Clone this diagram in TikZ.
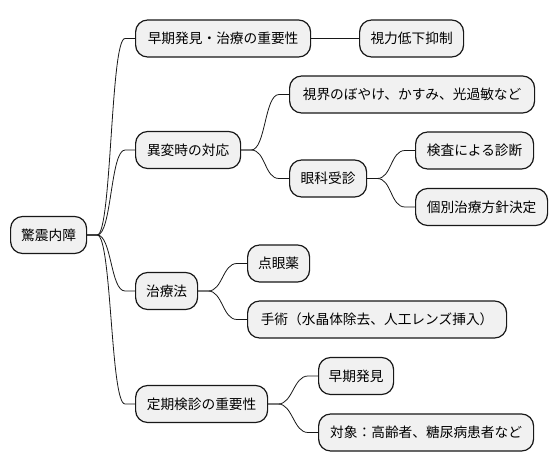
\documentclass[tikz,border=0pt]{standalone}
\usepackage{fontspec}
\setmainfont{Noto Sans CJK JP}
\usetikzlibrary{calc}
\definecolor{boxfill}{HTML}{F1F1F1}
\definecolor{ink}{HTML}{181818}
\tikzset{
  box/.style={draw=ink, line width=1.2pt, fill=boxfill, rounded corners=12pt,
    minimum height=37pt, inner xsep=0pt, inner ysep=0pt, anchor=west,
    font=\fontsize{13.7pt}{16pt}\selectfont, text=black},
  conn/.style={draw=ink, line width=0.8pt}
}
\newcommand{\mconn}[2]{\draw[conn] (#1.east) -- ++(10,0) .. controls +(14.5,0) and +(-14.5,0) .. ($(#2.west)+(-10,0)$) -- (#2.west);}
\begin{document}
\begin{tikzpicture}[x=1pt,y=-1pt]
\useasboundingbox[fill=white] (0,0) rectangle (558,471);
\node[box, minimum width=76pt] (root) at (10,235) {驚震内障};
\node[box, minimum width=175pt] (a) at (135,38.5) {早期発見・治療の重要性};
\node[box, minimum width=104pt] (a1) at (359,38.5) {視力低下抑制};
\node[box, minimum width=105pt] (b) at (135,150) {異変時の対応};
\node[box, minimum width=245pt] (b1) at (289,94.5) {視界のぼやけ、かすみ、光過敏など};
\node[box, minimum width=77pt] (b2) at (289,178.5) {眼科受診};
\node[box, minimum width=118pt] (b21) at (415,150.5) {検査による診断};
\node[box, minimum width=132pt] (b22) at (415,207) {個別治療方針決定};
\node[box, minimum width=62pt] (c) at (135,291) {治療法};
\node[box, minimum width=62pt] (c1) at (247,263.5) {点眼薬};
\node[box, minimum width=259pt] (c2) at (247,319.5) {手術（水晶体除去、人工レンズ挿入）};
\node[box, minimum width=132pt] (d) at (135,404) {定期検診の重要性};
\node[box, minimum width=75pt] (d1) at (318,376) {早期発見};
\node[box, minimum width=215pt] (d2) at (318,432.5) {対象：高齢者、糖尿病患者など};
\mconn{root}{a}
\mconn{root}{b}
\mconn{root}{c}
\mconn{root}{d}
\mconn{a}{a1}
\mconn{b}{b1}
\mconn{b}{b2}
\mconn{b2}{b21}
\mconn{b2}{b22}
\mconn{c}{c1}
\mconn{c}{c2}
\mconn{d}{d1}
\mconn{d}{d2}
\end{tikzpicture}
\end{document}
